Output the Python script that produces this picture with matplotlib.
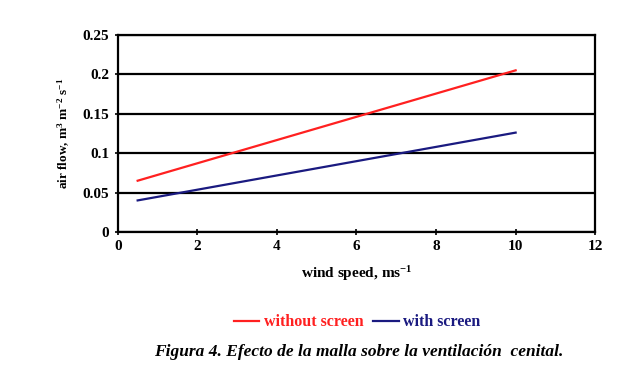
import matplotlib
matplotlib.use("Agg")
import matplotlib.pyplot as plt

wind_speed = [0.5, 10]
without_screen = [0.065, 0.205]
with_screen = [0.040, 0.126]
x_ticks = [0, 2, 4, 6, 8, 10, 12]
y_ticks = [0, 0.05, 0.1, 0.15, 0.2, 0.25]
y_labels = ["0", "0.05", "0.1", "0.15", "0.2", "0.25"]

plt.rcParams['font.family'] = ['Liberation Serif', 'DejaVu Serif']
plt.rcParams['mathtext.fontset'] = 'custom'
plt.rcParams['mathtext.rm'] = 'Liberation Serif:bold'
plt.rcParams['mathtext.default'] = 'rm'

fig = plt.figure(figsize=(6.4, 3.79), dpi=100)
ax = fig.add_axes([0.184, 0.388, 0.746, 0.52])

ax.plot(wind_speed, without_screen, color='#ff2020', lw=1.6, label='without screen')
ax.plot(wind_speed, with_screen, color='#1a1a80', lw=1.6, label='with screen')

ax.set_xlim(0, 12)
ax.set_ylim(0, 0.25)
ax.set_xticks(x_ticks)
ax.set_yticks(y_ticks)
ax.set_yticklabels(y_labels)
ax.yaxis.grid(True, color='black', lw=1.6)
ax.set_axisbelow(True)
for s in ax.spines.values():
    s.set_linewidth(1.6)
ax.tick_params(direction='inout', length=5, width=1.2, labelsize=11)
for lab in ax.get_xticklabels() + ax.get_yticklabels():
    lab.set_fontweight('bold')

ax.set_xlabel('wind speed, ms$^{-1}$', fontsize=11, fontweight='bold', labelpad=8)
ax.set_ylabel('air flow, m$^{3}$ m$^{-2}$ s$^{-1}$', fontsize=9.5, fontweight='bold', labelpad=8)

leg = fig.legend(loc='center', bbox_to_anchor=(0.558, 0.15), ncol=2, frameon=False,
                 fontsize=11.5, handlelength=1.6, columnspacing=0.6, handletextpad=0.3)
for t, c in zip(leg.get_texts(), ['#ff2020', '#1a1a80']):
    t.set_color(c)
    t.set_fontweight('bold')

fig.text(0.56, 0.07, 'Figura 4. Efecto de la malla sobre la ventilación  cenital.',
         ha='center', va='center', fontsize=12.5, fontweight='bold', fontstyle='italic')

fig.savefig('out.png', dpi=100)
